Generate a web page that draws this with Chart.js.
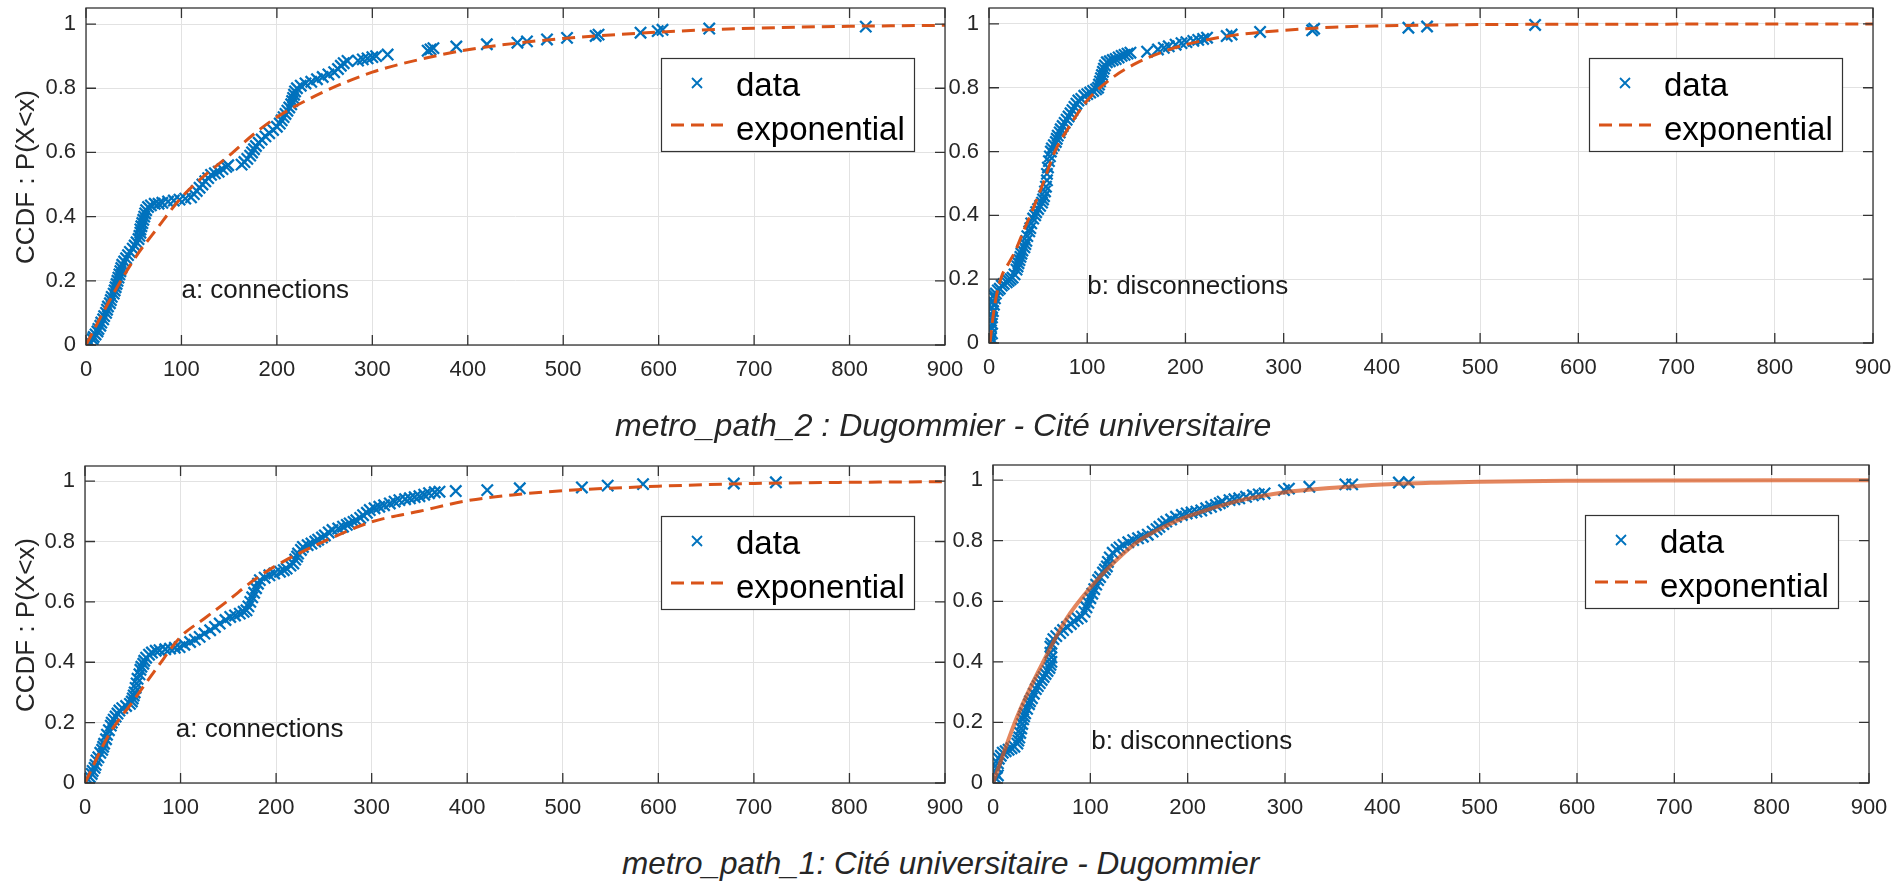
<!DOCTYPE html>
<html>
<head>
<meta charset="utf-8">
<script src="https://cdn.jsdelivr.net/npm/chart.js@4.4.0/dist/chart.umd.min.js"></script>
<style>
body{margin:0;background:#fff;overflow:hidden;}
#page{position:relative;width:1893px;height:882px;overflow:hidden;background:#fff;font-family:"Liberation Sans",Arial,Helvetica,sans-serif;}
canvas{position:absolute;}
.title{position:absolute;font-style:italic;line-height:32px;color:#262626;white-space:nowrap;}
.ylab{position:absolute;font-size:26px;line-height:26px;color:#262626;white-space:nowrap;transform:translate(-50%,-50%) rotate(-90deg);}
</style>
</head>
<body>
<div id="page">
  <canvas id="c1"></canvas>
  <canvas id="c2"></canvas>
  <canvas id="c3"></canvas>
  <canvas id="c4"></canvas>
  <div class="title" style="left:615px;top:409px;font-size:32px">metro_path_2 : Dugommier - Cité universitaire</div>
  <div class="title" style="left:622px;top:847px;font-size:31.5px">metro_path_1: Cité universitaire - Dugommier</div>
  <div class="ylab" style="left:25px;top:177px">CCDF : P(X&lt;x)</div>
  <div class="ylab" style="left:25px;top:625px">CCDF : P(X&lt;x)</div>
</div>
<script>
const xTicks = [0,100,200,300,400,500,600,700,800,900];
const yTicks = [0,0.2,0.4,0.6,0.8,1];
const legendNames = ["data","exponential"];

// metro_path_2, a: connections
const conn2X = [1,3,5,7,8,10,12,13,15,16,
  18,19,21,22,23,25,26,27,29,30,
  31,32,33,34,35,36,37,38,40,42,
  44,46,49,51,53,55,56,57,57,58,
  59,60,61,62,63,65,68,72,76,80,
  86,92,98,104,110,113,116,119,122,125,
  128,131,135,139,143,147,149,163,166,169,
  172,174,176,178,181,184,188,192,196,200,
  203,205,207,209,211,213,215,216,217,218,
  219,221,225,230,236,242,248,254,260,264,
  267,270,274,285,290,295,300,304,316,358,
  361,364,388,420,452,462,483,504,534,537,
  581,599,604,653,817];
const conn2Y = [0.005,0.012,0.006,0.018,0.025,0.033,0.042,0.05,0.06,0.07,
  0.08,0.09,0.1,0.11,0.12,0.13,0.14,0.15,0.16,0.17,
  0.18,0.19,0.2,0.21,0.22,0.23,0.24,0.25,0.26,0.27,
  0.28,0.29,0.3,0.31,0.32,0.33,0.34,0.35,0.36,0.37,
  0.38,0.39,0.4,0.41,0.42,0.43,0.435,0.44,0.44,0.443,
  0.447,0.45,0.453,0.456,0.46,0.47,0.48,0.49,0.5,0.51,
  0.52,0.53,0.535,0.54,0.548,0.555,0.56,0.562,0.57,0.58,
  0.59,0.6,0.61,0.62,0.63,0.64,0.65,0.66,0.67,0.68,
  0.69,0.7,0.71,0.72,0.73,0.74,0.75,0.76,0.77,0.78,
  0.79,0.8,0.808,0.815,0.82,0.828,0.835,0.843,0.85,0.86,
  0.87,0.878,0.885,0.886,0.89,0.893,0.897,0.9,0.905,0.917,
  0.921,0.925,0.93,0.937,0.942,0.946,0.952,0.957,0.963,0.967,
  0.973,0.978,0.982,0.986,0.992];
const conn2FitX = [0,25,50,75,100,125,150,175,200,250,300,350,400,450,500,600,700,800,900];
const conn2FitY = [0,0.14,0.265,0.365,0.46,0.53,0.59,0.655,0.71,0.79,0.85,0.89,0.92,0.94,0.955,0.975,0.987,0.993,0.996];

// metro_path_2, b: disconnections
const disc2X = [0,1,2,1,3,1,2,3,2,3,
  2,4,3,5,4,6,5,7,9,11,
  13,15,18,20,22,24,26,28,29,30,
  31,32,33,34,36,37,38,39,41,42,
  43,45,47,48,50,52,54,55,56,57,
  58,59,59,60,61,62,63,64,66,68,
  69,70,72,73,75,77,79,81,83,85,
  87,89,91,94,97,100,103,106,109,111,
  112,113,114,115,116,117,118,120,123,126,
  129,132,135,138,141,144,161,172,178,183,
  190,196,201,208,213,218,222,242,247,276,
  329,331,427,446,556];
const disc2Y = [0,0.008,0.015,0.025,0.03,0.04,0.05,0.06,0.07,0.08,
  0.09,0.1,0.11,0.12,0.13,0.14,0.15,0.155,0.165,0.17,
  0.18,0.185,0.19,0.195,0.2,0.205,0.215,0.23,0.24,0.25,
  0.26,0.27,0.28,0.29,0.3,0.31,0.32,0.335,0.35,0.36,
  0.375,0.39,0.4,0.41,0.42,0.43,0.44,0.45,0.46,0.475,
  0.49,0.51,0.53,0.55,0.57,0.585,0.6,0.61,0.62,0.63,
  0.64,0.65,0.66,0.67,0.68,0.69,0.7,0.71,0.72,0.73,
  0.74,0.75,0.76,0.765,0.775,0.78,0.785,0.79,0.795,0.8,
  0.81,0.82,0.83,0.84,0.85,0.86,0.87,0.88,0.883,0.887,
  0.89,0.895,0.9,0.903,0.907,0.91,0.913,0.92,0.925,0.93,
  0.935,0.94,0.943,0.947,0.95,0.953,0.957,0.962,0.967,0.975,
  0.98,0.985,0.988,0.992,0.997];
const disc2FitX = [1,4,8,13,20,27,35,42,50,55,67,80,100,125,150,175,200,250,300,350,400,500,600,900];
const disc2FitY = [0,0.08,0.155,0.21,0.25,0.29,0.35,0.4,0.46,0.5,0.6,0.67,0.76,0.83,0.877,0.91,0.935,0.965,0.98,0.99,0.994,0.998,0.999,1];

// metro_path_1, a: connections
const conn1X = [1,3,5,7,8,10,11,12,14,16,
  18,19,20,22,23,25,27,28,30,32,
  34,36,39,43,47,49,50,51,52,53,
  54,55,57,58,59,61,62,64,67,70,
  74,78,84,89,94,99,104,110,115,120,
  125,131,136,141,147,152,157,162,166,169,
  171,173,175,177,179,181,183,188,193,198,
  204,208,211,215,218,220,222,223,226,228,
  233,237,241,244,248,251,255,259,265,270,
  274,277,281,284,288,291,295,298,303,308,
  313,319,324,329,335,340,345,350,355,360,
  366,371,388,421,455,520,547,584,679,723];
const conn1Y = [0.005,0.012,0.02,0.03,0.04,0.05,0.06,0.075,0.085,0.1,
  0.11,0.12,0.13,0.145,0.16,0.175,0.19,0.2,0.21,0.22,
  0.23,0.24,0.248,0.255,0.262,0.27,0.28,0.29,0.3,0.315,
  0.33,0.345,0.36,0.375,0.385,0.395,0.405,0.415,0.425,0.432,
  0.438,0.44,0.443,0.445,0.448,0.45,0.458,0.467,0.475,0.484,
  0.495,0.506,0.517,0.528,0.54,0.55,0.555,0.561,0.567,0.572,
  0.585,0.6,0.615,0.63,0.645,0.66,0.672,0.68,0.688,0.694,
  0.7,0.705,0.71,0.72,0.727,0.74,0.75,0.76,0.772,0.782,
  0.788,0.793,0.8,0.806,0.813,0.82,0.83,0.838,0.843,0.849,
  0.855,0.86,0.865,0.87,0.878,0.887,0.895,0.904,0.91,0.915,
  0.92,0.926,0.932,0.937,0.94,0.943,0.947,0.95,0.955,0.96,
  0.963,0.965,0.967,0.97,0.976,0.979,0.985,0.99,0.992,0.996];
const conn1FitX = [0,25,50,75,100,125,150,175,200,250,300,350,400,450,500,600,700,800,900];
const conn1FitY = [0,0.16,0.27,0.38,0.484,0.545,0.605,0.668,0.72,0.8,0.865,0.9,0.935,0.955,0.968,0.983,0.992,0.996,0.998];

// metro_path_1, b: disconnections
const disc1X = [1,3,5,2,4,5,6,8,10,13,
  16,19,22,25,26,27,28,29,30,31,
  32,33,35,37,38,40,42,44,46,48,
  50,52,54,56,58,59,60,60,59,59,
  60,62,65,69,72,76,80,83,87,91,
  94,96,98,100,102,104,106,108,110,113,
  115,117,118,120,123,127,130,134,139,144,
  149,154,159,164,168,171,175,178,183,188,
  194,199,204,209,214,219,224,229,233,236,
  243,248,253,260,267,273,279,299,304,325,
  362,369,417,427];
const disc1Y = [0.005,0.015,0.025,0.035,0.05,0.065,0.08,0.09,0.1,0.105,
  0.11,0.115,0.12,0.13,0.14,0.15,0.165,0.18,0.195,0.21,
  0.22,0.23,0.245,0.26,0.27,0.28,0.295,0.31,0.32,0.33,
  0.34,0.35,0.36,0.37,0.38,0.39,0.4,0.415,0.43,0.45,
  0.46,0.475,0.485,0.495,0.505,0.515,0.525,0.535,0.543,0.55,
  0.565,0.58,0.595,0.61,0.625,0.64,0.655,0.67,0.68,0.695,
  0.705,0.715,0.73,0.745,0.76,0.77,0.778,0.786,0.795,0.802,
  0.808,0.813,0.82,0.83,0.838,0.846,0.855,0.863,0.87,0.879,
  0.885,0.89,0.893,0.896,0.9,0.907,0.912,0.918,0.924,0.929,
  0.934,0.937,0.94,0.945,0.95,0.953,0.956,0.967,0.972,0.978,
  0.986,0.986,0.992,0.993];
const disc1FitX = [0,25,50,75,100,125,150,175,200,250,300,350,400,450,500,600,700,900];
const disc1FitY = [0,0.22,0.39,0.54,0.645,0.73,0.8,0.845,0.88,0.93,0.96,0.975,0.986,0.991,0.995,0.998,0.999,1];

const FONT = '"Liberation Sans", Arial, Helvetica, sans-serif';
const BLUE = '#0072BD';
const ORANGE = '#D95319';

function pts(xs, ys){
    return xs.map((x,i)=>({x:x, y:ys[i]}));
}

function drawX(ctx, x, y, h){
    ctx.beginPath();
    ctx.moveTo(x-h, y-h); ctx.lineTo(x+h, y+h);
    ctx.moveTo(x-h, y+h); ctx.lineTo(x+h, y-h);
    ctx.stroke();
}

/* axes box, inward ticks, text label and legend, matlab style */
const matlabBits = {
    id:'matlabBits',
    afterDatasetsDraw(chart, args, opts){
        const ctx = chart.ctx;
        const a = chart.chartArea;
        const sx = chart.scales.x, sy = chart.scales.y;
        ctx.save();

        // box + ticks
        ctx.strokeStyle = '#333';
        ctx.lineWidth = 1.3;
        ctx.strokeRect(a.left, a.top, a.right-a.left, a.bottom-a.top);
        ctx.beginPath();
        xTicks.forEach(v=>{
            const p = sx.getPixelForValue(v);
            ctx.moveTo(p, a.bottom); ctx.lineTo(p, a.bottom-10);
            ctx.moveTo(p, a.top); ctx.lineTo(p, a.top+10);
        });
        yTicks.forEach(v=>{
            const p = sy.getPixelForValue(v);
            ctx.moveTo(a.left, p); ctx.lineTo(a.left+10, p);
            ctx.moveTo(a.right, p); ctx.lineTo(a.right-10, p);
        });
        ctx.stroke();

        // panel note
        ctx.fillStyle = '#1a1a1a';
        ctx.font = '26px ' + FONT;
        ctx.textAlign = 'left';
        ctx.textBaseline = 'middle';
        ctx.fillText(opts.note, sx.getPixelForValue(opts.noteX), sy.getPixelForValue(opts.noteY));

        // legend
        const w = 253, h = 93;
        const bx = Math.round(a.right - 31 - w), by = Math.round(a.top + 50);
        ctx.fillStyle = '#fff';
        ctx.fillRect(bx, by, w, h);
        ctx.strokeStyle = '#333';
        ctx.lineWidth = 1.2;
        ctx.strokeRect(bx+0.5, by+0.5, w, h);

        ctx.strokeStyle = BLUE;
        ctx.lineWidth = 1.8;
        drawX(ctx, bx+36, by+25, 5);

        ctx.strokeStyle = ORANGE;
        ctx.lineWidth = 3;
        ctx.setLineDash([13,7]);
        ctx.beginPath();
        ctx.moveTo(bx+10, by+67); ctx.lineTo(bx+62, by+67);
        ctx.stroke();
        ctx.setLineDash([]);

        ctx.fillStyle = '#000';
        ctx.font = '33px ' + FONT;
        ctx.textBaseline = 'alphabetic';
        ctx.fillText(legendNames[0], bx+75, by+38);
        ctx.fillText(legendNames[1], bx+75, by+82);
        ctx.restore();
    }
};

function makePanel(id, area, yW, dataX, dataY, fitX, fitY, note, solidFit){
    const padTop = 30, padRight = 45, xH = 50;
    const cv = document.getElementById(id);
    cv.width = yW + (area.r - area.l) + padRight;
    cv.height = padTop + (area.b - area.t) + xH;
    cv.style.left = (area.l - yW) + 'px';
    cv.style.top = (area.t - padTop) + 'px';

    const tickFont = {family: FONT, size: 22};
    return new Chart(cv, {
        type:'scatter',
        data:{
            datasets:[{
                label:legendNames[0],
                data:pts(dataX, dataY),
                pointStyle:'crossRot',
                pointRadius:8,
                pointBorderWidth:2.3,
                borderWidth:2.3,
                borderColor:BLUE,
                backgroundColor:BLUE,
                showLine:false,
                order:1
            },{
                label:legendNames[1],
                data:pts(fitX, fitY),
                showLine:true,
                pointRadius:0,
                borderColor: solidFit ? 'rgba(217,83,25,0.7)' : ORANGE,
                borderWidth: solidFit ? 4 : 3,
                borderDash: solidFit ? [] : [13,7],
                cubicInterpolationMode:'monotone',
                order:0
            }]
        },
        options:{
            responsive:false,
            animation:false,
            layout:{padding:{left:0, top:padTop, right:padRight, bottom:0}},
            plugins:{
                legend:{display:false},
                tooltip:{enabled:false},
                matlabBits:{note:note.text, noteX:note.x, noteY:note.y}
            },
            scales:{
                x:{
                    type:'linear', min:0, max:900,
                    afterBuildTicks: s => { s.ticks = xTicks.map(v=>({value:v})); },
                    afterFit: s => { s.height = xH; },
                    grid:{color:'#e2e2e2', drawTicks:false},
                    border:{display:false},
                    ticks:{padding:12, color:'#262626', font:tickFont, maxRotation:0, autoSkip:false}
                },
                y:{
                    type:'linear', min:0, max:1.05,
                    afterBuildTicks: s => { s.ticks = yTicks.map(v=>({value:v})); },
                    afterFit: s => { s.width = yW; },
                    grid:{color:'#e2e2e2', drawTicks:false},
                    border:{display:false},
                    ticks:{padding:10, color:'#262626', font:tickFont, autoSkip:false, callback: v => String(v)}
                }
            }
        },
        plugins:[matlabBits]
    });
}

makePanel('c1', {l:86, t:8, r:945, b:345}, 86, conn2X, conn2Y, conn2FitX, conn2FitY,
    {text:'a: connections', x:100, y:0.17}, false);
makePanel('c2', {l:989, t:8, r:1873, b:343}, 80, disc2X, disc2Y, disc2FitX, disc2FitY,
    {text:'b: disconnections', x:100, y:0.175}, false);
makePanel('c3', {l:85, t:466, r:945, b:783}, 85, conn1X, conn1Y, conn1FitX, conn1FitY,
    {text:'a: connections', x:95, y:0.177}, false);
makePanel('c4', {l:993, t:465, r:1869, b:783}, 80, disc1X, disc1Y, disc1FitX, disc1FitY,
    {text:'b: disconnections', x:101, y:0.136}, true);
</script>
</body>
</html>
